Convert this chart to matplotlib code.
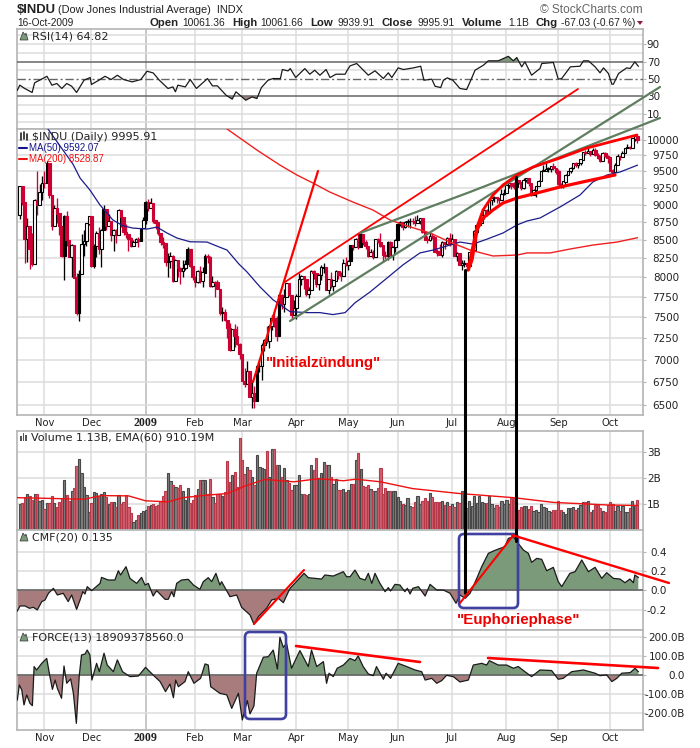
import matplotlib
matplotlib.use('Agg')
import matplotlib.pyplot as plt
from matplotlib.patches import FancyBboxPatch, Polygon, Rectangle
import numpy as np

# bar number 0 is 20-Oct-2008, last bar 250 is 16-Oct-2009
month_ticks = [10, 29, 51, 71, 90, 112, 133, 153, 175, 197, 218, 239]
month_labels = ['Nov', 'Dec', '2009', 'Feb', 'Mar', 'Apr', 'May', 'Jun', 'Jul', 'Aug', 'Sep', 'Oct']

opens = [8852,9265,9033,8519,8691,8378,8175,9065,8990,9180,
9325,9319,9625,9139,8695,8943,8870,8693,8282,8835,
8497,8273,8424,7997,7552,8046,8443,8479,8726,8829,
8149,8419,8591,8376,8635,8934,8691,8761,8565,8629,
8564,8924,8824,8604,8579,8519,8419,8468,8515,8483,
8668,8776,9034,8952,9015,8769,8742,8599,8474,8448,
8200,8212,8281,7949,8228,8122,8077,8116,8174,8375,
8149,8000,7936,8078,7956,8063,8280,8270,7888,7939,
7932,7850,7552,7556,7465,7365,7114,7350,7270,7182,
7062,6763,6726,6875,6594,6626,6547,6926,6930,7170,
7223,7216,7395,7486,7400,7278,7775,7660,7749,7924,
7776,7522,7609,7761,7978,8017,7975,7789,7837,8083,
8058,7920,8029,8125,8131,7841,7969,7886,7957,8076,
8025,8016,8185,8168,8212,8426,8410,8512,8409,8575,
8469,8418,8284,8331,8268,8504,8474,8422,8292,8277,
8473,8300,8403,8500,8721,8740,8675,8750,8764,8764,
8763,8740,8770,8799,8612,8504,8497,8555,8539,8339,
8323,8299,8472,8438,8529,8447,8504,8280,8324,8163,
8178,8183,8146,8332,8359,8616,8711,8743,8848,8915,
8881,9069,9093,9108,9096,9070,9154,9171,9286,9320,
9280,9256,9370,9337,9241,9361,9398,9321,9135,9217,
9279,9350,9505,9509,9539,9543,9580,9544,9496,9310,
9280,9344,9441,9497,9547,9627,9605,9626,9683,9791,
9783,9820,9778,9829,9749,9707,9665,9789,9742,9712,
9509,9487,9599,9731,9725,9786,9864,9885,9871,10015,
10061]
highs = [9267,9265,9033,8800,8691,8600,9080,9500,9300,9420,
9500,9660,9625,9139,9000,9100,8870,8693,8850,8900,
8500,8440,8430,8050,8100,8580,8630,8740,8830,8829,
8440,8620,8680,8650,9000,8934,8860,8761,8650,8650,
8940,8924,8824,8720,8579,8540,8500,8530,8540,8670,
8820,9050,9080,9090,9015,8780,8750,8600,8540,8450,
8320,8330,8290,8240,8228,8130,8220,8220,8400,8380,
8150,8010,8100,8150,8130,8310,8310,8280,8010,7950,
7960,7850,7620,7600,7470,7430,7360,7420,7390,7190,
7060,6900,6980,6875,6770,6710,6940,7010,7190,7240,
7390,7400,7530,7560,7510,7780,7790,7850,7930,7924,
7776,7710,7780,8060,8030,8017,7975,7880,8090,8100,
8058,8040,8160,8190,8131,7980,8070,7960,8100,8080,
8070,8240,8270,8230,8430,8430,8530,8590,8600,8575,
8500,8418,8380,8360,8505,8530,8590,8422,8350,8480,
8490,8410,8510,8730,8770,8740,8760,8790,8800,8800,
8830,8850,8810,8800,8620,8550,8590,8590,8540,8370,
8440,8490,8472,8540,8590,8580,8504,8330,8324,8220,
8230,8190,8340,8370,8630,8730,8770,8860,8920,8930,
9100,9110,9120,9110,9096,9230,9230,9290,9320,9320,
9340,9410,9370,9337,9400,9400,9400,9321,9230,9280,
9360,9510,9590,9620,9570,9580,9630,9544,9540,9320,
9350,9450,9500,9560,9630,9640,9630,9690,9800,9830,
9860,9820,9870,9870,9790,9760,9800,9800,9760,9712,
9540,9630,9770,9740,9810,9870,9920,9890,10020,10070,
10062]
lows = [8797,8990,8187,8200,8112,8143,8175,8850,8990,9060,
9250,9319,9100,8640,8695,8740,8560,8270,7965,8420,
8260,8000,7990,7520,7450,8046,8280,8420,8710,8140,
8120,8260,8310,8130,8635,8640,8691,8490,8350,8450,
8564,8680,8560,8520,8350,8400,8419,8468,8400,8483,
8668,8720,8900,8950,8730,8650,8570,8430,8390,8150,
8000,8120,7940,7949,8000,7910,8000,8100,8174,8130,
7970,7880,7920,7930,7870,8060,8190,7870,7870,7750,
7850,7530,7450,7450,7250,7100,7114,7150,7170,7010,
6760,6700,6726,6590,6470,6470,6547,6860,6770,7100,
7190,7130,7340,7380,7220,7278,7600,7560,7749,7760,
7480,7522,7480,7761,7900,7850,7760,7740,7837,7980,
7880,7830,7970,8060,7830,7790,7860,7820,7957,7980,
7950,8016,8150,8100,8212,8360,8410,8380,8409,8430,
8370,8260,8284,8240,8268,8450,8400,8200,8240,8220,
8290,8230,8340,8500,8690,8640,8660,8680,8660,8720,
8690,8740,8720,8600,8500,8460,8490,8510,8330,8280,
8290,8260,8380,8438,8410,8447,8280,8210,8160,8090,
8130,8100,8100,8280,8359,8590,8690,8743,8790,8840,
8870,9000,9040,9020,9000,9070,9140,9170,9250,9230,
9230,9256,9300,9220,9230,9340,9270,9120,9135,9110,
9270,9350,9500,9509,9490,9490,9520,9450,9290,9250,
9250,9340,9441,9470,9530,9570,9550,9600,9683,9760,
9780,9730,9778,9740,9690,9650,9665,9720,9630,9500,
9440,9487,9599,9670,9725,9780,9864,9840,9871,9980,
9940]
closes = [9265,9033,8519,8691,8378,8175,9065,8990,9180,9325,
9319,9625,9139,8695,8943,8870,8693,8282,8835,8497,
8273,8424,7997,7552,8046,8443,8479,8726,8829,8149,
8419,8591,8376,8635,8934,8691,8761,8565,8629,8564,
8924,8824,8604,8579,8519,8419,8468,8515,8483,8668,
8776,9034,8952,9015,8769,8742,8599,8474,8448,8200,
8212,8281,7949,8228,8122,8077,8116,8174,8375,8149,
8000,7936,8078,7956,8063,8280,8270,7888,7939,7932,
7850,7552,7556,7465,7365,7114,7350,7270,7182,7062,
6763,6726,6875,6594,6626,6547,6926,6930,7170,7223,
7216,7395,7486,7400,7278,7775,7660,7749,7924,7776,
7522,7609,7761,7978,8017,7975,7789,7837,8083,8058,
7920,8029,8125,8131,7841,7969,7886,7957,8076,8025,
8016,8185,8168,8212,8426,8410,8512,8409,8575,8469,
8418,8284,8331,8268,8504,8474,8422,8292,8277,8473,
8300,8403,8500,8721,8740,8675,8750,8764,8764,8763,
8740,8770,8799,8612,8504,8497,8555,8539,8339,8323,
8299,8472,8438,8529,8447,8504,8280,8324,8163,8178,
8183,8146,8332,8359,8616,8711,8743,8848,8915,8881,
9069,9093,9108,9096,9070,9154,9171,9286,9320,9280,
9256,9370,9337,9241,9361,9398,9321,9135,9217,9279,
9350,9505,9509,9539,9543,9580,9544,9496,9310,9280,
9344,9441,9497,9547,9627,9605,9626,9683,9791,9783,
9820,9778,9829,9749,9707,9665,9789,9742,9712,9509,
9487,9599,9731,9725,9786,9864,9885,9871,10015,10062,
9996]

# up bars that print solid black in the picture
filled_up = [11, 18, 24, 30, 34, 49, 51, 68, 75, 96, 105, 134, 138, 149, 153]

ma50_x = [11.4,21.5,24.4,28.4,32.5,37.7,41.8,45.8,51.5,55.5,59.6,63.6,68.9,75.8,79.8,83.9,88.7,92,97.2,102.5,109.4,116.3,121.5,126.8,131.7,135.7,141.8,148.7,155.1,162,167.3,174.2,178.2,183.5,189.2,195.6,201.3,205.4,210.6,218.7,226.8,232,237.7,243,250]
ma50 = [10172,9611,9395,9214,8992,8777,8695,8663,8649,8677,8594,8525,8473,8469,8414,8360,8173,8068,7877,7713,7566,7554,7554,7530,7554,7675,7811,7990,8161,8321,8360,8428,8469,8441,8510,8594,8707,8764,8806,8964,9140,9335,9441,9487,9592]
ma200_x = [83.9,96,105.3,112.2,118.7,125.5,134.9,143,149.9,156.8,166.1,174.2,182.3,191.6,201.3,205.4,214.7,222.8,232,241.8,250]
ma200 = [10172,9831,9595,9441,9319,9184,9036,8920,8777,8693,8594,8469,8360,8280,8293,8321,8321,8374,8428,8469,8528]

rsi_x = [-1,0,2,5,6,8,11,13,15,17,19,21,23,26,28.5,29,32,34.5,37,39.5,42,45.5,49,51.5,54,56.5,60,62,63,64,67,69,71.5,73,76,78,80,83.5,86,87.5,91.5,94,96,97.8,100.5,102.5,105.5,106.3,108.6,109.5,111.7,115.4,117.4,119.4,121.5,124,125.6,128,131.7,132.4,133.7,136.4,138.4,141.1,143.8,147.2,149.2,150.6,153.2,155.3,159.4,162.3,163.6,166.8,168.1,170.4,171.5,173.1,175.3,178.2,180.9,182.9,184.3,187.7,189.7,193.7,197.8,199.8,201.2,203.2,204.5,207.2,210.6,211.3,216,218,219.4,222.9,226.8,228.2,230.2,232.9,234.9,236.3,238.3,239.7,240.3,242.4,245.7,247.1,249,250.4]
rsi = [37,42.8,39,34.4,45.5,48.5,53,42.8,44.7,39,44.7,41.6,34.4,48.5,51.6,43.6,48.5,53,49.3,54.2,49.3,46.6,49.3,58.8,56.9,48.5,39,40.8,35.2,42.8,40.8,49.3,39,42.8,50.4,42,42,31.3,26.7,35.2,25.5,29.3,27.4,40,48.5,50.4,50.4,60.8,59.2,61.9,51.6,61.9,55.4,60,54.2,60.8,51.6,55.4,55.4,59.2,65,67.7,62,54.3,59.3,50.5,57,51.6,62.7,60.8,62.7,64.6,48.5,49.7,41.6,40,48.5,51.2,48.5,39,37.8,50.5,60,65.8,70.8,70.8,76,70.8,74.6,63.9,69.6,54.3,62,67.7,68.9,49.7,50.5,63.9,64.6,70.8,70.8,63.9,57,62.7,56.2,43.9,43.9,56.2,62.7,62,69.6,64.6]

volumes = [1.0,1.05,1.25,1.38,1.3,1.15,1.38,1.38,1.12,1.15,
.79,1.02,1.02,1.31,1.02,.89,1.06,1.21,1.91,1.34,
1.11,1.5,1.62,2.45,2.71,2.2,1.66,1.34,.7,1.02,
1.45,1.42,1.31,1.4,1.45,1.27,.98,1.09,1.09,.89,
1.35,.98,1.09,1.35,.89,.67,.32,.38,.57,.67,
.73,.76,.94,.96,1.0,.93,.96,1.11,1.31,1.49,
2.2,1.87,1.71,1.66,1.63,1.71,1.51,1.15,1.62,1.02,
1.15,1.34,1.59,1.91,1.91,1.91,1.4,1.95,1.27,1.02,
1.4,1.4,1.31,1.44,2.64,1.85,2.1,2.23,1.66,3.54,
2.7,2.14,2.42,2.29,2.04,1.71,2.89,2.42,2.38,2.33,
3.02,2.04,3.1,3.12,2.48,2.48,2.04,2.38,1.91,1.82,
1.53,1.71,1.71,2.1,1.4,1.4,1.36,1.4,2.48,2.29,
2.78,2.0,2.2,2.62,2.48,2.48,2.04,1.78,1.95,1.53,
1.53,1.57,1.46,1.53,1.75,1.75,2.7,2.97,2.36,1.67,
1.66,1.72,1.57,1.5,1.5,1.63,2.39,1.38,1.63,1.5,
1.5,1.5,1.5,1.25,1.12,.98,.96,1.21,.92,.87,
1.06,1.3,.98,1.13,1.24,1.11,1.43,1.26,1.08,1.06,
1.06,1.1,.96,1.06,.92,.98,.88,1.06,1.04,1.48,
1.3,.83,1.13,.92,1.3,1.04,1.3,1.08,1.04,1.04,
1.31,.99,.85,.96,.9,1.1,1.01,1.16,1.01,1.24,
1.24,1.08,.78,.9,.94,.94,.8,.94,.74,.78,
.71,.98,.9,.83,.74,.7,.78,.78,1.1,.78,
.68,.62,.83,.83,.9,.78,.83,.96,1.06,1.06,
1.1,.68,.78,.96,.96,.83,.74,.68,.96,1.06,
.98,.74,.92,.74,.92,.68,.68,.85,1.13,.96,
1.17]
ema_x = [-1,9,26,33,44,51,60,66,76,84,91,99,111,121,131,136,146,159,178,200,216,238,250]
ema = [1.24,1.22,1.18,1.32,1.31,1.12,1.08,1.24,1.34,1.4,1.68,1.94,1.85,1.97,1.89,1.95,1.85,1.59,1.4,1.24,1.06,.96,.94]

cmf_x = [-1,.1,2.1,3.9,5.5,7.1,8.9,10.2,11.6,13.6,15.2,17.6,19.6,21,23,24.4,25.5,26.4,27.3,29.1,32.5,33.1,35.8,38.5,39.9,40.8,43,44.6,47.3,49.3,50.7,52,54,55.4,58.8,60.1,61.5,62.4,63.5,65.5,68.2,70.3,72.9,74.3,76.3,77.7,79.4,81,81.7,85.1,87.8,89.8,93.2,94.8,96.6,99.9,102,104.7,106.7,109.4,115.1,116.8,119.5,122.2,123.5,126.9,131,132.3,133.7,135.7,137.7,139.8,141.1,142.5,143.8,145.8,147.9,149.2,150.1,151.9,153.9,155.9,156.9,158,159.1,161.4,164.1,166.1,168.8,171.5,174.2,176.6,178.2,180.3,182.3,185,187,189.7,191.7,194.4,196.4,197.8,199.8,201.8,203.9,205.9,207.2,209.3,211.3,213.3,216,218,219.4,222.7,224.8,227.5,230.2,232.9,235.6,237.6,240.3,243,245,247,248.4,249,250.4]
cmf = [-.214,-.162,-.162,-.186,-.176,-.203,-.117,-.1,-.031,.021,-.048,-.031,-.117,-.048,-.197,-.1,-.014,-.038,.038,-.003,.072,.134,.107,.107,.203,.159,.245,.124,.072,.134,.055,.072,-.059,-.003,-.093,-.093,-.014,-.066,.072,.107,.114,.055,.01,.09,.131,.09,.176,.055,.09,-.066,-.048,-.176,-.255,-.352,-.272,-.186,-.1,-.083,-.128,.021,.176,.131,.124,.117,.159,.148,.193,.141,.141,.21,.124,.107,.176,.072,.176,.072,-.014,.028,-.007,.062,.055,-.014,.021,-.038,.021,.038,-.059,.062,.003,.003,-.031,-.134,-.048,-.083,-.031,.124,.245,.383,.407,.434,.452,.538,.555,.486,.417,.383,.29,.331,.321,.203,.238,.09,.038,.176,.193,.314,.193,.238,.124,.183,.124,.117,.079,.117,.079,.159,.134]

force_x = [-1,-.2,.8,1.7,2.8,4.1,5.1,5.8,6.8,8.9,10.9,12.2,13.2,14.3,15.2,16.9,17.9,19,20.6,21.7,22.9,24.1,25,26.4,27.3,28.4,29.2,31.1,32.2,34.1,35.4,37.9,39.5,41.6,44.6,48,50.9,54.1,56.8,59,60.8,62.2,63.1,64.2,66.9,68.2,70.5,73.2,75,76.3,77.3,81,83.8,85.8,88.5,90.1,92.1,93.2,94.8,95.9,98.6,100.6,102.6,104.3,105.3,106.7,108,110,113.4,116.8,118.1,120.2,122.9,124.2,125.2,126.9,128.5,131,133.7,135.7,137,139,141.1,143.1,144.4,147.2,148.3,150.1,153.2,156.6,160,162.7,164.1,166.8,168.8,170.8,172.8,175.5,178.2,181.6,183.6,187,189,190.1,193.7,197.1,199.8,201.8,204.5,207.2,210.6,215.3,218,220,223.4,228.2,232.9,234.9,237.6,239.7,241.7,243.7,247.1,249.1,250.4]
force = [-130,-51,-77,-156,-103,-147,-160,46,28,63,89,-7,-74,-25,-68,-121,49,-42,-19,-95,-253,2,107,112,133,107,-25,63,19,116,54,19,81,19,-7,-4,42,0,-33,-86,-46,-118,-25,-60,-33,19,-42,-16,60,54,-60,-95,-103,-174,-95,-235,-133,-203,-161,11,95,98,133,33,200,147,168,37,130,46,133,46,72,-42,11,-7,37,54,89,77,102,46,7,-2,46,-21,11,-16,63,46,28,19,-25,-16,-42,-28,0,-7,-35,-25,54,63,54,77,54,54,37,46,19,-7,28,25,-21,-16,19,28,11,-2,2,-33,-16,11,14,37,19]

W, H = 700, 748
LEFT, RIGHT = 17, 643
GRID = '#dcdcdc'
FRAME = '#b4b4b4'
GREEN = '#7a9a7a'
BROWN = '#a87c7c'
LINECOL = '#1a1a1a'
TICK_FONT = 'DejaVu Sans'

fig = plt.figure(figsize=(W / 100, H / 100), dpi=100, facecolor='white')


def panel(top, bottom, ylim, yticks, ylabels, label_right, grid=None):
    ax = fig.add_axes([LEFT / W, 1 - bottom / H, (RIGHT - LEFT) / W, (bottom - top) / H])
    ax.set_xlim(-1.13, 252.3)
    for s in ax.spines.values():
        s.set_color(FRAME)
        s.set_linewidth(1.2)
    ax.set_axisbelow(True)
    for t in month_ticks:
        ax.axvline(t, color='#b8b8b8' if t == 51 else GRID, lw=1.1, zorder=0)
    ax.set_xticks([])
    ax.yaxis.tick_right()
    return ax, top, bottom, ylim, yticks, ylabels, label_right, grid


def finish(p):
    ax, top, bottom, ylim, yticks, ylabels, label_right, grid = p
    ax.set_ylim(*ylim)
    for g in (grid if grid is not None else yticks):
        ax.axhline(g, color=GRID, lw=1.1, zorder=0)
    ax.minorticks_off()
    ax.set_yticks(yticks)
    ax.set_yticklabels(ylabels, fontsize=7.5, family=TICK_FONT, color='#222222')
    ax.minorticks_off()
    pad = (label_right - 1.5 - RIGHT) * 0.72
    ax.tick_params(axis='y', right=True, length=2.5, width=0.8, color=FRAME, pad=pad, which='major')
    ax.tick_params(axis='y', which='minor', right=False, left=False, labelright=False)
    for lab in ax.get_yticklabels():
        lab.set_ha('right')
    ax.tick_params(axis='x', bottom=False, top=False)


def area(ax, x, y):
    x = np.array(x)
    y = np.array(y)
    ax.fill_between(x, 0, y, where=y >= 0, interpolate=True, color=GREEN, lw=0, zorder=2)
    ax.fill_between(x, 0, y, where=y <= 0, interpolate=True, color=BROWN, lw=0, zorder=2)
    ax.axhline(0, color='#666666', lw=1.2, zorder=3)
    ax.plot(x, y, color=LINECOL, lw=0.9, zorder=4)


# RSI panel
p_rsi = panel(29, 129, (-7.6, 107.4), [90, 70, 50, 30, 10], ['90', '70', '50', '30', '10'], 658,
              grid=[100, 90, 80, 60, 40, 20, 10, 0])
ax = p_rsi[0]
rx, ry = np.array(rsi_x), np.array(rsi)
ax.fill_between(rx, 70, ry, where=ry >= 70, interpolate=True, color=GREEN, lw=0, zorder=2)
ax.fill_between(rx, 30, ry, where=ry <= 30, interpolate=True, color=BROWN, lw=0, zorder=2)
ax.axhline(70, color='#666666', lw=1.1, zorder=3)
ax.axhline(30, color='#666666', lw=1.1, zorder=3)
ax.axhline(50, color='#666666', lw=1.0, ls=(0, (6, 2, 1.5, 2)), zorder=3)
ax.plot(rx, ry, color=LINECOL, lw=0.9, zorder=4)
finish(p_rsi)

# price panel
price_ticks = [10000, 9750, 9500, 9250, 9000, 8750, 8500, 8250, 8000, 7750, 7500, 7250, 7000, 6750, 6500]
p_price = panel(129, 415, (6399, 10172), price_ticks, [str(t) for t in price_ticks], 677)
ax = p_price[0]
ax.set_yscale('log')
xs = np.arange(len(closes))
o, h, l, c = map(np.array, (opens, highs, lows, closes))
prev = np.concatenate(([c[0] - 1], c[:-1]))
cols = np.where(c >= prev, '#000000', '#cc0033')
ax.vlines(xs, l, h, colors=cols, lw=0.95, zorder=3)
up = c >= o
solid = [(not up[i]) or (i in filled_up) for i in xs]
faces = [cols[i] if solid[i] else 'white' for i in xs]
ax.bar(xs, np.abs(c - o) + 4, bottom=np.minimum(o, c) - 2, width=1.05, color=faces, edgecolor=cols, lw=0.8, zorder=4)
ax.plot(ma50_x, ma50, color='#1c1c8c', lw=0.9, zorder=5)
ax.plot(ma200_x, ma200, color='#f02020', lw=1.0, zorder=5)
finish(p_price)

# volume panel
p_vol = panel(431, 530, (0, 3.8), [1, 2, 3], ['1B', '2B', '3B'], 659)
ax = p_vol[0]
v_red = c < prev
ax.bar(xs, volumes, width=0.9, color=['#d0606e' if r else '#808080' for r in v_red],
       edgecolor=['#b83a4a' if r else '#484848' for r in v_red], lw=0.8, zorder=2)
ax.plot(ema_x, ema, color='#ee1111', lw=1.0, zorder=3)
finish(p_vol)

# CMF panel
p_cmf = panel(530, 630, (-.411, .625), [.4, .2, 0, -.2], ['0.4', '0.2', '0.0', '-0.2'], 665)
area(p_cmf[0], cmf_x, cmf)
finish(p_cmf)

# FORCE panel
p_force = panel(630, 730, (-287.9, 238.4), [200, 100, 0, -100, -200],
                ['200.0B', '100.0B', '0.0', '-100.0B', '-200.0B'], 683)
area(p_force[0], force_x, force)
finish(p_force)

# overlay in picture pixels, for header text and the hand drawn marks
over = fig.add_axes([0, 0, 1, 1], zorder=10)
over.set_xlim(0, W)
over.set_ylim(H, 0)
over.axis('off')
over.patch.set_alpha(0)


def txt(x, y, s, size=7.4, color='#111111', weight='normal', family='Liberation Sans', ha='left'):
    over.text(x, y, s, fontsize=size, color=color, fontweight=weight, family=family, ha=ha, va='center')


def seg(xp, yp, color='red', lw=1.5):
    over.plot(xp, yp, color=color, lw=lw, solid_capstyle='round', solid_joinstyle='round')


# month labels under price and force panels
for t, lab in zip(month_ticks, month_labels):
    px = 44.5 + (t - 10) * 2.47
    bold = lab == '2009'
    for yy in (423, 738):
        txt(px, yy, lab, size=8.6 if bold else 7.2, color='#222222', weight='bold' if bold else 'normal',
            family='DejaVu Sans' if not bold else 'Liberation Serif', ha='center')

# header
txt(17, 10, '$INDU', size=9.4, weight='bold', color='#222222')
txt(58, 10, '(Dow Jones Industrial Average)  INDX', size=7.9, color='#222222')
txt(17, 23, '16-Oct-2009', size=7.3, color='#222222')
for x, s, b in [(149, 'Open', True), (182, '10061.36', False), (232, 'High', True), (260, '10061.66', False),
                (310, 'Low', True), (337, '9939.91', False), (382, 'Close', True), (417, '9995.91', False),
                (462, 'Volume', True), (508, '1.1B', False), (536, 'Chg', True), (561, '-67.03 (-0.67 %)', False)]:
    txt(x, 23, s, size=8.2 if b else 7.4, weight='bold' if b else 'normal', color='#222222')
over.add_patch(Polygon([[637, 21], [643, 21], [640, 25]], closed=True, color='#8b1a4a', lw=0))
txt(643, 10, '\u00a9 StockCharts.com', size=8.6, color='#666666', ha='right')

# panel labels with small icons
txt(32, 36.5, 'RSI(14) 64.82', size=8.0, family='DejaVu Sans', color='#222222')
txt(32, 136.5, '$INDU (Daily) 9995.91', size=8.0, family='DejaVu Sans', color='#222222')
txt(29, 147.5, 'MA(50) 9592.07', size=7.0, color='#14148c')
txt(29, 158.5, 'MA(200) 8528.87', size=7.0, color='#ee1111')
seg([19, 27], [147.5, 147.5], color='#14148c', lw=1.5)
seg([19, 27], [158.5, 158.5], color='#ee1111', lw=1.5)
txt(31, 437.5, 'Volume 1.13B, EMA(60) 910.19M', size=8.0, family='DejaVu Sans', color='#222222')
txt(32, 537.5, 'CMF(20) 0.135', size=7.9, family='DejaVu Sans', color='#222222')
txt(32, 637.5, 'FORCE(13) 18909378560.0', size=8.0, family='DejaVu Sans', color='#222222')
for yy in (40, 541, 641):
    over.add_patch(Polygon([[20, yy], [23, yy - 8], [25, yy - 5], [26, yy - 7], [28, yy]], closed=True,
                           facecolor=GREEN, edgecolor='#333333', lw=0.5))
for bx, bh in [(20, 5), (22.5, 8), (25, 6)]:
    over.add_patch(Rectangle((bx, 441 - bh), 1.8, bh, color='#555555', lw=0))
for bx, bt, bb in [(21, 133, 140), (24, 132, 139), (27, 134, 140)]:
    seg([bx, bx], [bt, bb], color='#222222', lw=1.2)

# hand drawn trend lines
DGREEN = '#5f7d5f'
seg([253, 318], [382, 171], lw=1.6)
seg([285, 578], [282, 89], lw=1.3)
seg([290, 660], [321, 87], color=DGREEN, lw=1.6)
seg([360, 470, 660], [233, 192, 118], color=DGREEN, lw=1.6)
seg([468, 472, 477, 483, 493, 503, 517, 533, 560, 587, 610, 637],
    [270, 250, 227, 210, 195, 185, 175, 167, 158, 148, 142, 135], lw=2.0)
seg([468, 472, 477, 483, 493, 503, 517, 533, 560, 587, 615],
    [270, 260, 230, 218, 210, 203, 198, 194, 187, 181, 175], lw=2.3)
seg([465, 465], [270, 593], color='black', lw=2.2)
seg([515.5, 515.5], [177, 541], color='black', lw=2.2)
for bx0, by0, bx1, by1 in [(459, 534, 518, 608), (245, 632, 286, 719)]:
    over.add_patch(FancyBboxPatch((bx0, by0), bx1 - bx0, by1 - by0, boxstyle='round,pad=0,rounding_size=5',
                                  fill=False, edgecolor='#4040a0', lw=1.9))
seg([254, 304], [624, 570], lw=1.5)
seg([460, 512], [603, 537], lw=1.5)
seg([512, 669], [535, 583], lw=1.7)
seg([296, 420], [646, 662], lw=1.9)
seg([488, 658], [658, 668], lw=1.9)
txt(266, 363, '"Initialz\u00fcndung"', size=10.8, color='#ee0000', weight='bold')
txt(457, 620, '"Euphoriephase"', size=10.9, color='#ee0000', weight='bold')

fig.savefig('out.png', dpi=100, facecolor='white')
